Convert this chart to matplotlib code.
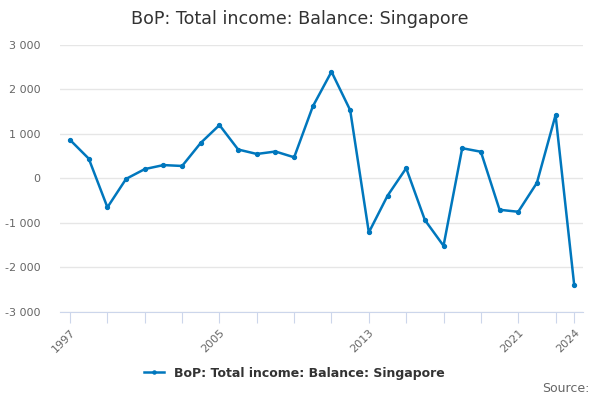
import matplotlib
matplotlib.use("Agg")
import matplotlib.pyplot as plt
from matplotlib.ticker import FuncFormatter

years = list(range(1997, 2025))
values = [860, 440, -655, -15, 205, 295, 275, 795, 1195, 645, 545, 600, 470,
          1615, 2395, 1530, -1220, -395, 225, -940, -1520, 675, 595, -710,
          -755, -105, 1420, -2410]
label = "BoP: Total income: Balance: Singapore"
shown_years = [1997, 2005, 2013, 2021, 2024]

line_col = "#0077bd"
text_col = "#666666"
axis_col = "#ccd6eb"

fig = plt.figure(figsize=(6, 4), dpi=100)
ax = fig.add_axes([0.1, 0.221, 0.872, 0.667])

ax.plot(years, values, color=line_col, lw=1.8, marker="o", ms=2.8, label=label)

ax.set_xlim(1996.46, 2024.48)
ax.set_ylim(-3000, 3000)
ax.set_yticks(range(-3000, 3001, 1000))
ax.yaxis.set_major_formatter(FuncFormatter(lambda v, p: f"{int(v):,}".replace(",", " ")))
ax.grid(axis="y", color="#e6e6e6", lw=1)
ax.set_axisbelow(True)

ticks = list(range(1997, 2024, 2)) + [2024]
ax.set_xticks(ticks)
ax.set_xticklabels([str(t) if t in shown_years else "" for t in ticks],
                   rotation=45, ha="right", rotation_mode="anchor")

for s in ["top", "right", "left"]:
    ax.spines[s].set_visible(False)
ax.spines["bottom"].set_color(axis_col)
ax.tick_params(axis="x", colors=axis_col, length=8, labelcolor=text_col, labelsize=8)
ax.tick_params(axis="y", length=0, labelcolor=text_col, labelsize=8, pad=14)

fig.suptitle(label, x=0.5, y=0.975, fontsize=12.6, color="#333333")
fig.legend(loc="center", bbox_to_anchor=(0.49, 0.067), frameon=False,
           prop={"size": 9, "weight": "bold"}, labelcolor="#333333",
           handlelength=1.6, markerscale=0.8)
fig.text(0.982, 0.012, "Source:", ha="right", va="bottom", fontsize=9, color=text_col)

fig.savefig("out.png", dpi=100)
